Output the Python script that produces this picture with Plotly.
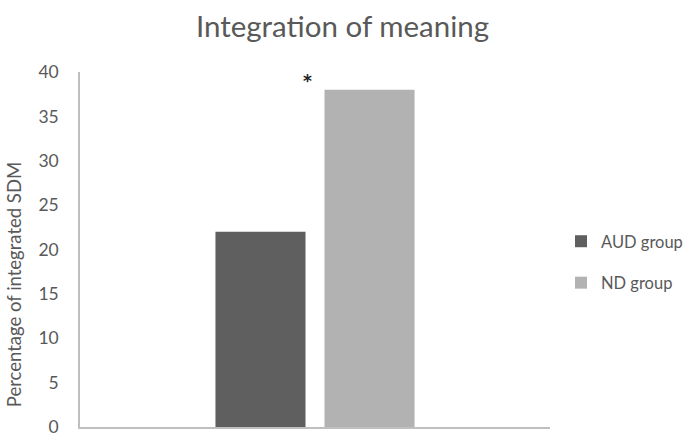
import plotly.graph_objects as go

categories = [""]
groups = ["AUD group", "ND group"]
values = [22, 38]
colors = ["#5f5f5f", "#b2b2b2"]
y_ticks = [0, 5, 10, 15, 20, 25, 30, 35, 40]

font_family = "Lato"
text_color = "#595959"

fig = go.Figure()
for name, val, col in zip(groups, values, colors):
    fig.add_trace(go.Bar(x=categories, y=[val], name=name, legendgroup=name,
                         marker=dict(color=col, line=dict(width=0))))

fig.add_annotation(x=0.485, xref="paper", y=values[1] + 1.0, yref="y", text="<b>*</b>",
                   showarrow=False, font=dict(family="DejaVu Sans", size=17, color="#222222"))

fig.add_annotation(x=-0.14, xref="paper", y=0.40, yref="paper", text="Percentage of integrated SDM",
                   textangle=-90, showarrow=False, xanchor="center", yanchor="middle",
                   font=dict(family=font_family, size=18.5, color=text_color))

fig.update_layout(
    width=685, height=436,
    margin=dict(l=80, r=135, t=72, b=9),
    paper_bgcolor="white", plot_bgcolor="white",
    title=dict(text="Integration of meaning", x=0.5, xanchor="center", y=1 - 27 / 436, yanchor="middle",
               font=dict(family=font_family, size=29.5, color=text_color)),
    barmode="group", bargap=0.536, bargroupgap=0.174,
    showlegend=True,
    legend=dict(xref="container", yref="container", x=561 / 685, y=1 - 262 / 436,
                xanchor="left", yanchor="middle",
                font=dict(family=font_family, size=16.5, color=text_color),
                tracegroupgap=17, itemwidth=30),
    xaxis=dict(showticklabels=False, ticks="", showline=True, linecolor="#bfbfbf", linewidth=1.5,
               showgrid=False, zeroline=False, automargin=False),
    yaxis=dict(range=[0, 40], tickvals=y_ticks, showline=True, linecolor="#bfbfbf", linewidth=1.5,
               showgrid=False, zeroline=False, ticks="", ticklabelstandoff=16,
               ticklabeloverflow="allow", automargin=False,
               tickfont=dict(family=font_family, size=17.5, color=text_color)),
    font=dict(family=font_family, color=text_color),
)

fig.write_html("out.html", config={"displayModeBar": False},
               post_script="document.body.style.margin='0';")
